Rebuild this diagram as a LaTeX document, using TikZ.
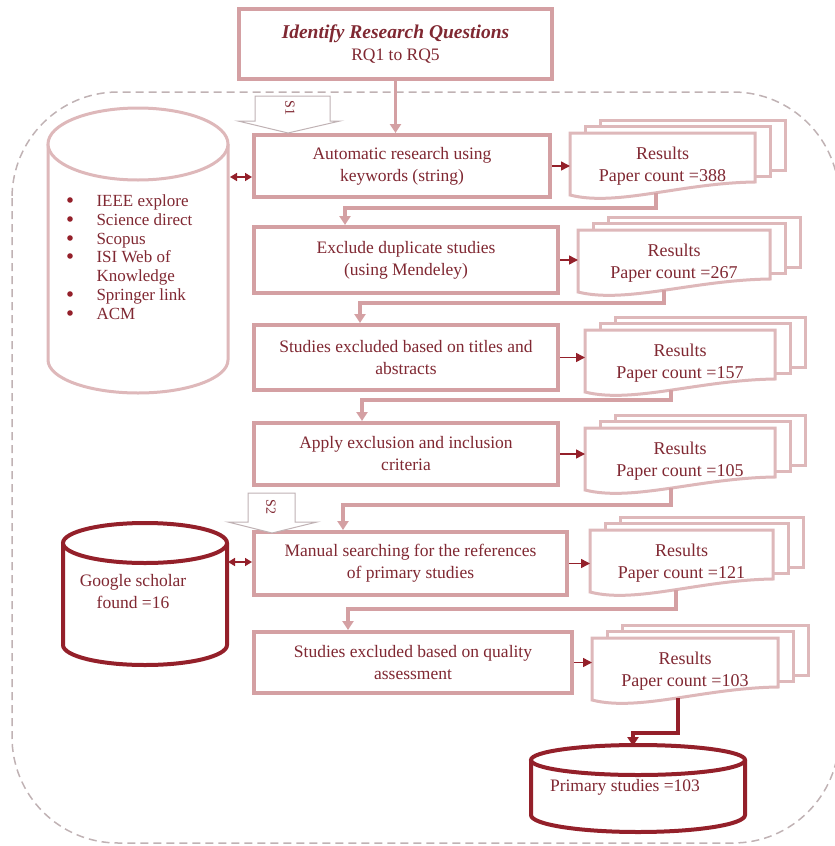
\documentclass[tikz,border=0pt]{standalone}
\usepackage{fontspec}
\setmainfont{Liberation Serif}
\usetikzlibrary{arrows.meta}
\definecolor{boxpink}{RGB}{212,160,163}
\definecolor{docpink}{RGB}{222,184,186}
\definecolor{txtred}{RGB}{128,40,50}
\definecolor{dbred}{RGB}{148,32,42}
\definecolor{framegray}{RGB}{192,178,180}
\begin{document}
\begin{tikzpicture}[x=1pt,y=-1pt,
    txt/.style={text=txtred,align=center,font=\fontsize{17.5}{22}\selectfont},
    procbox/.style={txt,draw=boxpink,line width=4pt,fill=white,inner sep=0pt},
    flow/.style={draw=boxpink,line width=3.5pt,-{Triangle[length=9pt,width=11pt]}},
    toresult/.style={draw=dbred,line width=1.5pt,-{Triangle[length=9pt,width=9pt]}},
    dbarrow/.style={draw=dbred,line width=1.5pt,{Triangle[length=7pt,width=8pt]}-{Triangle[length=7pt,width=8pt]}},
    doclayer/.style={draw=docpink,line width=3pt,fill=white},
    stagearrow/.style={draw=framegray,line width=1pt,fill=white},
    dbpale/.style={draw=docpink,line width=3pt,fill=white},
    dbdark/.style={draw=dbred,line width=4pt,fill=white}]
  \useasboundingbox (0,0) rectangle (835,846);
  \clip (0,0) rectangle (835,846);
  \draw[framegray,line width=1.5pt,dash pattern=on 8pt off 5pt,rounded corners=106pt] (12,92) rectangle (839,843);

  \node[procbox,line width=3.5pt,minimum width=313pt,minimum height=70pt] (rq) at (395.5,44)
    {{\fontsize{19.5}{22}\selectfont\textbf{\textit{Identify Research Questions}}}\\RQ1 to RQ5};

  % databases
  \draw[dbpale] (48,144) -- (48,360) arc[start angle=180,end angle=0,x radius=90,y radius=33] -- (228,144);
  \draw[dbpale] (138,144) ellipse[x radius=90,y radius=36];
  \node[text=txtred,align=left,anchor=west,font=\fontsize{17}{18.8}\selectfont] (dblist) at (93,257)
    {IEEE explore\\Science direct\\Scopus\\ISI Web of\\Knowledge\\Springer link\\ACM};
  \foreach \y in {200,219,238,256,294,313}
    \fill[dbred] (70,\y) circle (2.8pt);
  \draw[dbdark] (63,543) -- (63,645) arc[start angle=180,end angle=0,x radius=82,y radius=20] -- (227,543);
  \draw[dbdark] (145,543) ellipse[x radius=82,y radius=20];
  \node[txt] (gs) at (133,592) {Google scholar\\found =16};
  \draw[dbdark] (531,760) -- (531,815) arc[start angle=180,end angle=0,x radius=107,y radius=17] -- (745,760);
  \draw[dbdark] (638,760) ellipse[x radius=107,y radius=15];
  \node[txt] (ps) at (625,787) {Primary studies =103};
  \coordinate (pstop) at (633,746);

  \foreach \i/\cx/\cy/\w/\h/\t in {1/402/166/296/62/{Automatic research using\\keywords (string)},
      2/406/260/304/66/{Exclude duplicate studies\\(using Mendeley)},
      3/406/357.5/304/65/{Studies excluded based on titles and\\abstracts},
      4/406/454/304/62/{Apply exclusion and inclusion\\criteria},
      5/410.5/563.5/313/63/{Manual searching for the references\\of primary studies},
      6/413/662.5/318/61/{Studies excluded based on quality\\assessment}}
    \node[procbox,minimum width=\w pt,minimum height=\h pt] (b\i) at (\cx,\cy) {\t};

  \foreach \i/\x/\y/\w/\n in {1/570/133/185/388,2/578/230/192/267,3/585/330/190/157,
      4/585/428/190/105,5/590/530/183/121,6/592/638/186/103} {
    \draw[doclayer] (\x+30,\y-13) rectangle ++(\w,50);
    \draw[doclayer] (\x+15,\y-7) rectangle ++(\w,50);
    \draw[doclayer] (\x,\y) -- (\x+\w,\y) -- (\x+\w,\y+49)
      .. controls (\x+0.6*\w,\y+50) and (\x+0.25*\w,\y+74) .. (\x,\y+62) -- cycle;
    \node[txt,font=\fontsize{18}{22}\selectfont] (r\i) at (\x+\w/2,\y+33) {Results\\Paper count =\n};
    \coordinate (rl\i) at (\x,\y+30);
    \coordinate (rb\i) at (\x+86,\y+60);
    \draw[toresult] (b\i.east) -- (b\i.east -| rl\i);
  }

  \draw[flow] (rq.south) -- (rq.south |- b1.north);
  \foreach \i/\j/\hx/\hy in {1/2/345/208,2/3/360/303,3/4/362/400,4/5/343/505,5/6/348/609} {
    \coordinate (h\i) at (\hx,\hy);
    \draw[flow] (rb\i) |- (h\i) -- (h\i |- b\j.north);
  }
  \coordinate (h6) at (633,733);
  \draw[draw=dbred,line width=4pt,-{Triangle[length=9pt,width=11pt]}] (rb6) |- (h6) -- (pstop);

  \coordinate (db1) at (230,177);
  \coordinate (db2) at (228,562);
  \draw[dbarrow] (db1) -- (db1 -| b1.west);
  \draw[dbarrow] (db2) -- (db2 -| b5.west);

  % search stages
  \draw[stagearrow] (255,96) -- (330,96) -- (330,121) -- (340,121) -- (288,133) -- (238,121) -- (255,121) -- cycle;
  \node[text=txtred,rotate=-90,font=\fontsize{14}{14}\selectfont] (s1) at (290,108) {S1};
  \draw[stagearrow] (248,493) -- (295,493) -- (295,522) -- (317,522) -- (272,533) -- (228,522) -- (248,522) -- cycle;
  \node[text=txtred,rotate=-90,font=\fontsize{14}{14}\selectfont] (s2) at (271,507) {S2};
\end{tikzpicture}
\end{document}
